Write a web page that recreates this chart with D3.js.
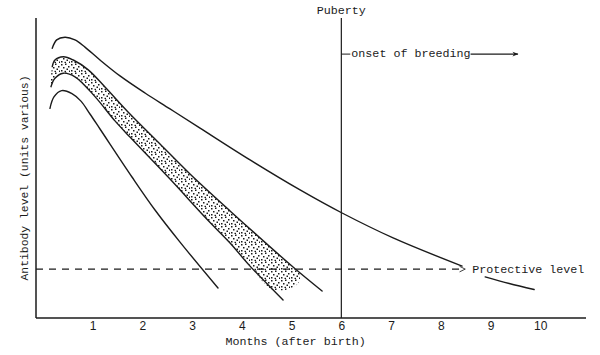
<!DOCTYPE html>
<html><head><meta charset="utf-8">
<script src="https://cdn.jsdelivr.net/npm/d3@7"></script>
<style>html,body{margin:0;padding:0;background:#fff;} svg{display:block}</style>
</head><body>
<svg id="c" width="600" height="355"></svg>
<script>
// ---------- data ----------
const tickMonths = [1, 2, 3, 4, 5, 6, 7, 8, 9, 10];
const tickLabels = ["1", "2", "3", "4", "5", "6", "7", "8", "9", "10"];

// [month, antibody level (arbitrary units 0-100)]
const curveA = [[0.187,89.9],[0.276,92.7],[0.443,93.6],[0.644,92.7],[0.845,90.3],[1.147,86.0],
  [1.549,80.7],[2.052,75.0],[2.555,69.7],[3.159,63.3],[4.164,52.7],[5.170,42.7],[6.015,35.0],
  [7.041,26.7],[8.429,17.3], null, [8.892,13.7],[9.376,11.5],[9.877,9.5]];
const bandUpper = [[0.187,83.8],[0.241,86.0],[0.408,87.1],[0.610,86.0],[0.911,82.7],[1.247,77.0],
  [1.750,68.0],[2.354,58.0],[2.957,48.0],[3.762,35.7],[5.029,17.0],[5.613,9.0]];
const bandLower = [[0.161,77.1],[0.241,79.9],[0.408,81.6],[0.644,80.4],[1.046,73.8],[1.448,65.7],
  [1.750,60.3],[2.555,46.3],[3.293,33.0],[3.762,25.0],[4.164,17.3],[4.828,6.0]];
const curveD = [[0.141,69.9],[0.221,73.7],[0.376,75.8],[0.583,74.8],[0.764,72.3],[0.945,68.0],
  [1.147,63.0],[1.790,47.0],[2.253,36.0],[2.756,25.3],[3.520,10.0]];
const bandEnd = [[5.17,14.8],[5.10,11.0],[4.64,9.3]];

const protectiveLevel = 16.3;
const protectiveEndMonth = 8.49;
const pubertyMonth = 6;
const breedingLevel = 88.3;
const breedingArrowEnd = 9.55;

const labels = {
  x: "Months (after birth)",
  y: "Antibody level (units various)",
  puberty: "Puberty",
  breeding: "onset of breeding",
  protective: "Protective level"
};

// ---------- drawing ----------
const svg = d3.select("#c");
const x = d3.scaleLinear().domain([-0.14, 10.92]).range([36, 586]);
const y = d3.scaleLinear().domain([0, 100]).range([318, 18]);
const ink = "#1b1b1b";
const mono = "'Liberation Mono', 'DejaVu Sans Mono', monospace";

const defs = svg.append("defs");
const pat = defs.append("pattern").attr("id", "stip").attr("patternUnits", "userSpaceOnUse")
  .attr("width", 10).attr("height", 9);
[[1,1],[5,0.5],[8,3],[3,4],[6.5,5.5],[1,7],[4.5,7.8],[9,7.5]].forEach(p =>
  pat.append("rect").attr("x", p[0]).attr("y", p[1]).attr("width", 1.5).attr("height", 1.5).attr("fill", ink));

defs.append("marker").attr("id", "openArrow").attr("viewBox", "0 0 10 10")
  .attr("refX", 9).attr("refY", 5).attr("markerWidth", 7).attr("markerHeight", 7)
  .attr("markerUnits", "userSpaceOnUse").attr("orient", "auto")
  .append("path").attr("d", "M1,1 L9,5 L1,9").attr("fill", "none").attr("stroke", ink).attr("stroke-width", 1.2);
defs.append("marker").attr("id", "solidArrow").attr("viewBox", "0 0 10 10")
  .attr("refX", 9).attr("refY", 5).attr("markerWidth", 7).attr("markerHeight", 6)
  .attr("markerUnits", "userSpaceOnUse").attr("orient", "auto")
  .append("path").attr("d", "M0,1 L10,5 L0,9 L3,5 Z").attr("fill", ink);

// stippled band
const closed = d3.line().x(d => x(d[0])).y(d => y(d[1])).curve(d3.curveCatmullRomClosed.alpha(0.5));
const up = bandUpper.filter(d => d[0] < bandEnd[0][0]);
const lo = bandLower.filter(d => d[1] > bandEnd[bandEnd.length-1][1]).slice().reverse();
svg.append("path").attr("d", closed(up.concat(bandEnd, lo))).attr("fill", "url(#stip)").attr("stroke", "none");

// curves
const line = d3.line().defined(d => d != null).x(d => x(d[0])).y(d => y(d[1]))
  .curve(d3.curveCatmullRom.alpha(0.5));
[curveA, bandUpper, bandLower, curveD].forEach(c =>
  svg.append("path").attr("d", line(c)).attr("fill", "none").attr("stroke", ink)
    .attr("stroke-width", 1.4).attr("stroke-linecap", "round").attr("stroke-linejoin", "round"));

// axes
svg.append("line").attr("x1", x.range()[0]).attr("x2", x.range()[1]).attr("y1", y(0)).attr("y2", y(0))
  .attr("stroke", ink).attr("stroke-width", 1.5);
svg.append("line").attr("x1", x.range()[0]).attr("x2", x.range()[0]).attr("y1", y(0)).attr("y2", y(100))
  .attr("stroke", ink).attr("stroke-width", 1.5);

const xAxis = d3.axisBottom(x).tickValues(tickMonths).tickSize(0).tickPadding(3)
  .tickFormat((d, i) => tickLabels[i]);
const gx = svg.append("g").attr("transform", `translate(0,${y(0)})`).call(xAxis);
gx.select(".domain").remove();
gx.selectAll("text").attr("font-family", "'Liberation Sans', Arial, sans-serif")
  .attr("font-size", 12).attr("fill", ink);

svg.append("text").attr("x", (x(0) + x(10)) / 2 + 4).attr("y", 345)
  .attr("text-anchor", "middle").attr("font-family", mono).attr("font-size", 11.7).attr("fill", ink)
  .text(labels.x);
svg.append("text").attr("transform", `translate(28,${(y(0) + y(100)) / 2 + 10}) rotate(-90)`)
  .attr("text-anchor", "middle").attr("font-family", mono).attr("font-size", 11.4).attr("fill", ink)
  .text(labels.y);

// protective level
svg.append("line").attr("x1", x.range()[0]).attr("x2", x(protectiveEndMonth))
  .attr("y1", y(protectiveLevel)).attr("y2", y(protectiveLevel))
  .attr("stroke", ink).attr("stroke-width", 1.2).attr("stroke-dasharray", "7,6")
  .attr("marker-end", "url(#openArrow)");
svg.append("text").attr("x", x(protectiveEndMonth) + 7).attr("y", y(protectiveLevel) + 4)
  .attr("font-family", mono).attr("font-size", 11.7).attr("fill", ink).text(labels.protective);

// puberty
svg.append("line").attr("x1", x(pubertyMonth)).attr("x2", x(pubertyMonth)).attr("y1", y(100)).attr("y2", y(0))
  .attr("stroke", ink).attr("stroke-width", 1.2);
svg.append("text").attr("x", x(pubertyMonth)).attr("y", 14).attr("text-anchor", "middle")
  .attr("font-family", mono).attr("font-size", 11.7).attr("fill", ink).text(labels.puberty);

// onset of breeding
const by = y(breedingLevel);
svg.append("line").attr("x1", x(pubertyMonth)).attr("x2", x(pubertyMonth) + 9).attr("y1", by + 1).attr("y2", by + 1)
  .attr("stroke", ink).attr("stroke-width", 1);
const bt = svg.append("text").attr("x", x(pubertyMonth) + 10).attr("y", by + 4)
  .attr("font-family", mono).attr("font-size", 11.7).attr("fill", ink).text(labels.breeding);
const bEnd = x(pubertyMonth) + 10 + bt.node().getComputedTextLength();
svg.append("line").attr("x1", bEnd).attr("x2", x(breedingArrowEnd)).attr("y1", by + 1).attr("y2", by + 1)
  .attr("stroke", ink).attr("stroke-width", 1.1).attr("marker-end", "url(#solidArrow)");
</script>
</body></html>
